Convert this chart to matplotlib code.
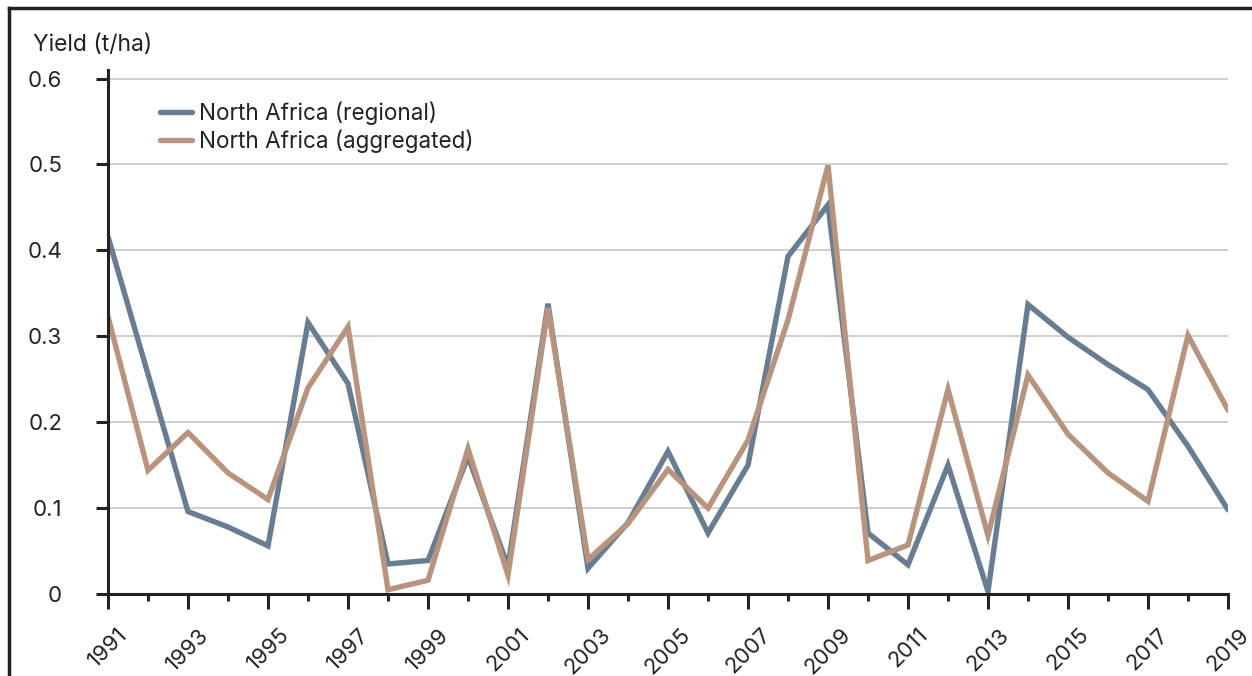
import numpy as np
import matplotlib.pyplot as plt
from matplotlib.lines import Line2D
from matplotlib.ticker import MultipleLocator

YEARS      = list(range(1991, 2020))
REGIONAL   = [0.416, 0.256, 0.096, 0.078, 0.056, 0.316, 0.245, 0.035, 0.039, 0.160,
              0.032, 0.338, 0.030, 0.083, 0.166, 0.071, 0.150, 0.393, 0.453, 0.071,
              0.034, 0.150, 0.003, 0.337, 0.299, 0.267, 0.238, 0.172, 0.098]
AGGREGATED = [0.323, 0.144, 0.188, 0.141, 0.110, 0.240, 0.311, 0.005, 0.016, 0.169,
              0.022, 0.333, 0.040, 0.082, 0.145, 0.100, 0.179, 0.319, 0.499, 0.039,
              0.057, 0.238, 0.068, 0.255, 0.186, 0.141, 0.108, 0.301, 0.214]
LABELS     = ["North Africa (regional)", "North Africa (aggregated)"]
COLORS     = ["#687c92", "#b8937d"]
TEXT_C     = "#222222"

plt.rcParams['font.family'] = ['Inter', 'DejaVu Sans']
plt.rcParams['font.size'] = 16

W, H = 1252, 676
fig = plt.figure(figsize=(W/100, H/100), dpi=100)
ax = fig.add_axes([108/W, 1-594/H, (1228-108)/W, (594-70)/H])

for vals, lab, col in zip([REGIONAL, AGGREGATED], LABELS, COLORS):
    ax.plot(YEARS, vals, color=col, lw=3.9, label=lab, solid_joinstyle='miter', solid_capstyle='round')

ax.set_xlim(1991, 2019)
ax.set_ylim(0, 0.61)
ax.set_yticks([0, 0.1, 0.2, 0.3, 0.4, 0.5, 0.6])
ax.set_yticklabels(["0", "0.1", "0.2", "0.3", "0.4", "0.5", "0.6"])
ax.set_xticks(YEARS[::2])
ax.xaxis.set_minor_locator(MultipleLocator(1))
ax.tick_params(axis='x', which='major', length=11, width=2.2, color='#222222',
               labelrotation=45, pad=11, labelcolor=TEXT_C, labelsize=16)
ax.tick_params(axis='x', which='minor', length=5, width=2.2, color='#222222')
ax.tick_params(axis='y', length=9, width=2.2, color='#222222', pad=24,
               labelcolor=TEXT_C, labelsize=16)

ax.grid(axis='y', color='#cccccc', lw=1.3)
ax.set_axisbelow(True)
for s in ['top', 'right']:
    ax.spines[s].set_visible(False)
for s in ['left', 'bottom']:
    ax.spines[s].set_color('#222222')
    ax.spines[s].set_linewidth(2.2)

fig.text(33/W, 1-45/H, "Yield (t/ha)", ha='left', va='center', color=TEXT_C, fontsize=16.5)

ax.legend(loc='upper left', bbox_to_anchor=(0.038, 0.958), frameon=False,
          handlelength=1.45, handletextpad=0.3, labelspacing=0.22, fontsize=16.2,
          labelcolor=TEXT_C, borderaxespad=0)

# outer frame (cropped on right and bottom)
fig.add_artist(Line2D([9/W, 9/W], [0, 1-8/H], color='#222222', lw=2.5, transform=fig.transFigure))
fig.add_artist(Line2D([9/W, 1], [1-8/H, 1-8/H], color='#222222', lw=2.5, transform=fig.transFigure))

fig.savefig("out.png", dpi=100)
